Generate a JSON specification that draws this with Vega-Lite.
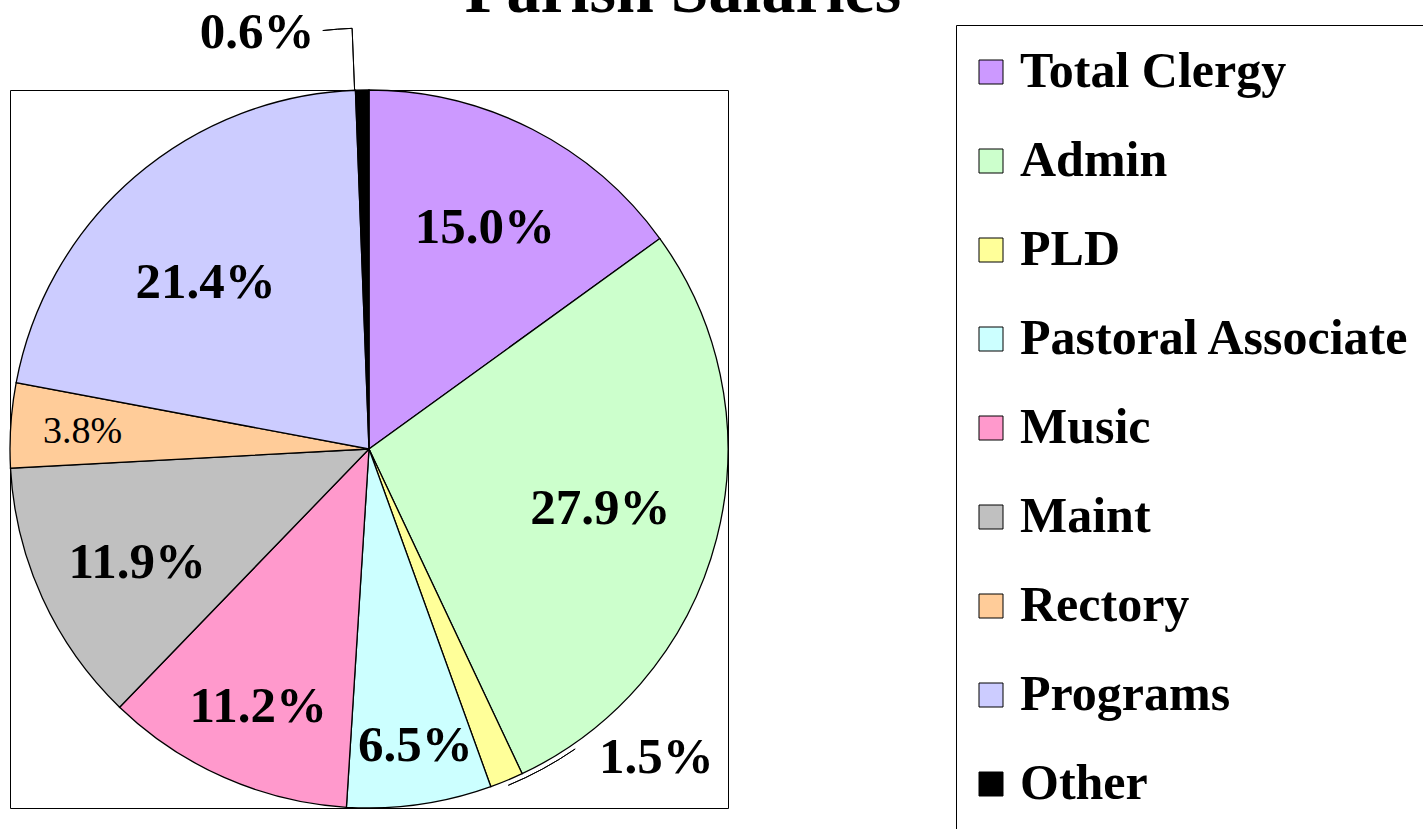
{
  "$schema": "https://vega.github.io/schema/vega-lite/v6.json",
  "autosize": {"type": "none"},
  "width": 718,
  "height": 718,
  "padding": {"left": 10, "top": 90, "right": 695, "bottom": 21},
  "background": "white",
  "view": {"stroke": "black", "strokeWidth": 1, "fill": "white"},
  "title": {"text": "Parish Salaries", "font": "Liberation Serif", "fontSize": 68, "fontWeight": "bold", "color": "black", "anchor": "middle", "frame": "group", "dx": 314, "baseline": "alphabetic", "offset": -117},
  "config": {"view": {"stroke": "black", "strokeWidth": 1}},
  "data": {"values": [
    {"category": "Total Clergy", "value": 0.150, "order": 1},
    {"category": "Admin", "value": 0.279, "order": 2},
    {"category": "PLD", "value": 0.015, "order": 3},
    {"category": "Pastoral Associate", "value": 0.065, "order": 4},
    {"category": "Music", "value": 0.112, "order": 5},
    {"category": "Maint", "value": 0.119, "order": 6},
    {"category": "Rectory", "value": 0.038, "order": 7},
    {"category": "Programs", "value": 0.214, "order": 8},
    {"category": "Other", "value": 0.006, "order": 9}
  ]},
  "layer": [
    {
      "mark": {"type": "arc", "outerRadius": 359, "stroke": "black", "strokeWidth": 1.3},
      "encoding": {
        "theta": {"field": "value", "type": "quantitative", "stack": true, "scale": {"domain": [0, 0.998]}},
        "order": {"field": "order", "type": "quantitative"},
        "color": {
          "field": "category", "type": "nominal",
          "sort": ["Total Clergy", "Admin", "PLD", "Pastoral Associate", "Music", "Maint", "Rectory", "Programs", "Other"],
          "scale": {
            "domain": ["Total Clergy", "Admin", "PLD", "Pastoral Associate", "Music", "Maint", "Rectory", "Programs", "Other"],
            "range": ["#CC99FF", "#CCFFCC", "#FFFF99", "#CCFFFF", "#FF99CC", "#C0C0C0", "#FFCC99", "#CCCCFF", "#000000"]
          },
          "legend": {
            "orient": "none", "legendX": 946, "legendY": -65, "title": null,
            "symbolType": "square", "symbolSize": 576, "symbolStrokeColor": "black", "symbolStrokeWidth": 1, "symbolOffset": -12,
            "labelFont": "Liberation Serif", "labelFontSize": 50, "labelFontWeight": "bold", "labelColor": "black",
            "labelOffset": 4, "rowPadding": 39, "padding": 22, "strokeColor": "black", "fillColor": "white", "labelLimit": 0
          }
        }
      }
    },
    {
      "transform": [{"stack": "value", "groupby": [], "sort": [{"field": "order"}], "as": ["v0", "v1"]}, {"filter": "datum.category === 'Other'"}],
      "mark": {"type": "arc", "radius": 421, "radius2": 359, "thetaOffset": -0.0401, "theta2Offset": -0.0401, "fill": "transparent", "stroke": "black", "strokeWidth": 1},
      "encoding": {"theta": {"field": "v1", "type": "quantitative", "stack": null}, "theta2": {"field": "v1"}}
    },
    {
      "transform": [{"stack": "value", "groupby": [], "sort": [{"field": "order"}], "as": ["v0", "v1"]}, {"filter": "datum.category === 'Other'"}],
      "mark": {"type": "arc", "radius": 421, "radius2": 421, "thetaOffset": -0.0401, "theta2Offset": -0.110, "fill": "transparent", "stroke": "black", "strokeWidth": 1},
      "encoding": {"theta": {"field": "v1", "type": "quantitative", "stack": null}, "theta2": {"field": "v1"}}
    },
    {
      "transform": [{"stack": "value", "groupby": [], "sort": [{"field": "order"}], "as": ["v0", "v1"]}, {"filter": "datum.category === 'PLD'"}],
      "mark": {"type": "arc", "radius": 364, "radius2": 364, "thetaOffset": -0.0464, "theta2Offset": -0.2559, "fill": "transparent", "stroke": "black", "strokeWidth": 1},
      "encoding": {"theta": {"field": "v1", "type": "quantitative", "stack": null}, "theta2": {"field": "v1"}}
    },
    {
      "mark": {"type": "text", "radius": 248, "dx": 3, "font": "Liberation Serif", "fontSize": 51, "fontWeight": "bold", "color": "black"},
      "encoding": {
        "theta": {"field": "value", "type": "quantitative", "stack": true},
        "order": {"field": "order", "type": "quantitative"},
        "detail": {"field": "category"},
        "text": {"field": "value", "type": "quantitative", "format": ".1%", "condition": {"test": "datum.category !== 'Total Clergy'", "value": ""}}
      }
    },
    {
      "mark": {"type": "text", "radius": 239, "font": "Liberation Serif", "fontSize": 51, "fontWeight": "bold", "color": "black"},
      "encoding": {
        "theta": {"field": "value", "type": "quantitative", "stack": true},
        "order": {"field": "order", "type": "quantitative"},
        "detail": {"field": "category"},
        "text": {"field": "value", "type": "quantitative", "format": ".1%", "condition": {"test": "datum.category !== 'Admin'", "value": ""}}
      }
    },
    {
      "mark": {"type": "text", "radius": 300, "dx": 4, "font": "Liberation Serif", "fontSize": 51, "fontWeight": "bold", "color": "black"},
      "encoding": {
        "theta": {"field": "value", "type": "quantitative", "stack": true},
        "order": {"field": "order", "type": "quantitative"},
        "detail": {"field": "category"},
        "text": {"field": "value", "type": "quantitative", "format": ".1%", "condition": {"test": "datum.category !== 'Pastoral Associate'", "value": ""}}
      }
    },
    {
      "mark": {"type": "text", "radius": 282, "dx": 3, "font": "Liberation Serif", "fontSize": 51, "fontWeight": "bold", "color": "black"},
      "encoding": {
        "theta": {"field": "value", "type": "quantitative", "stack": true},
        "order": {"field": "order", "type": "quantitative"},
        "detail": {"field": "category"},
        "text": {"field": "value", "type": "quantitative", "format": ".1%", "condition": {"test": "datum.category !== 'Music'", "value": ""}}
      }
    },
    {
      "mark": {"type": "text", "radius": 258, "dx": 3, "dy": 7, "font": "Liberation Serif", "fontSize": 51, "fontWeight": "bold", "color": "black"},
      "encoding": {
        "theta": {"field": "value", "type": "quantitative", "stack": true},
        "order": {"field": "order", "type": "quantitative"},
        "detail": {"field": "category"},
        "text": {"field": "value", "type": "quantitative", "format": ".1%", "condition": {"test": "datum.category !== 'Maint'", "value": ""}}
      }
    },
    {
      "mark": {"type": "text", "radius": 287, "dy": 2, "font": "Liberation Serif", "fontSize": 38, "fontWeight": "normal", "color": "black"},
      "encoding": {
        "theta": {"field": "value", "type": "quantitative", "stack": true},
        "order": {"field": "order", "type": "quantitative"},
        "detail": {"field": "category"},
        "text": {"field": "value", "type": "quantitative", "format": ".1%", "condition": {"test": "datum.category !== 'Rectory'", "value": ""}}
      }
    },
    {
      "mark": {"type": "text", "radius": 235, "dx": -10, "dy": 12, "font": "Liberation Serif", "fontSize": 51, "fontWeight": "bold", "color": "black"},
      "encoding": {
        "theta": {"field": "value", "type": "quantitative", "stack": true},
        "order": {"field": "order", "type": "quantitative"},
        "detail": {"field": "category"},
        "text": {"field": "value", "type": "quantitative", "format": ".1%", "condition": {"test": "datum.category !== 'Programs'", "value": ""}}
      }
    },
    {
      "mark": {"type": "text", "radius": 400, "dx": 134, "dy": -60, "font": "Liberation Serif", "fontSize": 51, "fontWeight": "bold", "color": "black"},
      "encoding": {
        "theta": {"field": "value", "type": "quantitative", "stack": true},
        "order": {"field": "order", "type": "quantitative"},
        "detail": {"field": "category"},
        "text": {"field": "value", "type": "quantitative", "format": ".1%", "condition": {"test": "datum.category !== 'PLD'", "value": ""}}
      }
    },
    {
      "mark": {"type": "text", "radius": 416, "dx": -104, "font": "Liberation Serif", "fontSize": 51, "fontWeight": "bold", "color": "black"},
      "encoding": {
        "theta": {"field": "value", "type": "quantitative", "stack": true},
        "order": {"field": "order", "type": "quantitative"},
        "detail": {"field": "category"},
        "text": {"field": "value", "type": "quantitative", "format": ".1%", "condition": {"test": "datum.category !== 'Other'", "value": ""}}
      }
    }
  ]
}
